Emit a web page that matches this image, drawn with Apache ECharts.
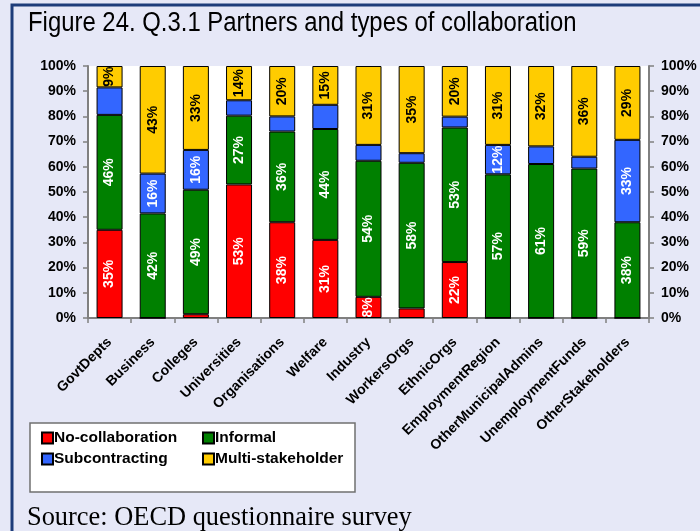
<!DOCTYPE html>
<html><head><meta charset="utf-8">
<script src="https://cdn.jsdelivr.net/npm/echarts@6/dist/echarts.min.js"></script>
<style>
html,body{margin:0;padding:0;}
body{width:700px;height:531px;background:#e6e8f7;overflow:hidden;position:relative;}
#c{position:absolute;left:0;top:0;width:700px;height:531px;}
</style></head>
<body><div id="c"></div>
<script>
const categories = ['GovtDepts','Business','Colleges','Universities','Organisations','Welfare','Industry','WorkersOrgs','EthnicOrgs','EmploymentRegion','OtherMunicipalAdmins','UnemploymentFunds','OtherStakeholders'];
const noCollaboration = [35, 0, 1.5, 53, 38, 31, 8.4, 3.8, 22.2, 0, 0, 0, 0];
const informal = [45.6, 41.5, 49.4, 27.3, 36, 44, 54, 57.8, 53.4, 57, 61.1, 59.3, 38];
const subcontracting = [10.9, 15.8, 15.8, 6.1, 6, 9.6, 6.3, 3.8, 4.3, 11.7, 7, 4.7, 32.7];
const multiStakeholder = [8.5, 42.7, 33.3, 13.6, 20, 15.4, 31.3, 34.6, 20.1, 31.3, 31.9, 36, 29.3];
const seriesNames = ['No-collaboration','Informal','Subcontracting','Multi-stakeholder'];
const titleText = 'Figure 24. Q.3.1 Partners and types of collaboration';
const sourceText = 'Source: OECD questionnaire survey';

const chart = echarts.init(document.getElementById('c'), null, {renderer:'canvas'});
const lblFont = 'Liberation Sans, Arial, sans-serif';
function mk(name, data, color, textColor, minShow){
  return {
    name, type:'bar', stack:'all', data, barWidth:26,
    itemStyle:{color, borderColor:'#000', borderWidth:1},
    label:{show:true, position:'inside', rotate:90, color:textColor, fontWeight:'bold', fontSize:14, fontFamily:lblFont,
      formatter:p=> p.value>=minShow ? Math.round(p.value)+'%' : ''},
    emphasis:{disabled:true}
  };
}
const yAx = (pos, margin)=>({
  type:'value', min:0, max:100, interval:10, position:pos,
  axisLine:{show:true, lineStyle:{color:'#808080', width:2}},
  axisTick:{show:true, length:5, lineStyle:{color:'#808080', width:1.5}},
  splitLine:{show:false},
  axisLabel:{formatter:'{value}%', color:'#000', fontWeight:'bold', fontSize:14, fontFamily:lblFont, margin}
});
chart.setOption({
  animation:false,
  backgroundColor:'transparent',
  grid:{left:88, right:51, top:66, bottom:213, show:true, backgroundColor:'#fff', borderWidth:0},
  xAxis:{type:'category', data:categories,
    axisLine:{lineStyle:{color:'#808080', width:2}},
    axisTick:{show:true, length:5, lineStyle:{color:'#808080', width:1.5}},
    axisLabel:{rotate:45, color:'#000', fontWeight:'bold', fontSize:14, fontFamily:lblFont, margin:22, interval:0}},
  yAxis:[yAx('left', 12), yAx('right', 12)],
  graphic:[
    {type:'rect', shape:{x:12, y:5, width:700, height:540}, style:{fill:'none', stroke:'#1d3c7a', lineWidth:3}, z:0, silent:true},
    {type:'rect', shape:{x:30, y:423, width:325, height:69}, style:{fill:'#fff', stroke:'#707070', lineWidth:1.5}, z:0},
    {type:'text', x:28, y:24, scaleX:0.885, style:{text:titleText, font:'normal 27px Liberation Sans, Arial, sans-serif', fill:'#000', textVerticalAlign:'middle'}},
    {type:'text', x:27, y:531, style:{text:sourceText, font:'normal 26.4px Liberation Serif, Times New Roman, serif', fill:'#000', textVerticalAlign:'bottom'}}
  ],
  legend:[
    {data:['No-collaboration','Subcontracting'], orient:'vertical', left:36, top:425, itemGap:5, itemWidth:11, itemHeight:11, icon:'rect',
     textStyle:{color:'#000', fontWeight:'bold', fontSize:15.5, fontFamily:lblFont, padding:[0,0,0,-4]}, z:5},
    {data:['Informal','Multi-stakeholder'], orient:'vertical', left:197, top:425, itemGap:5, itemWidth:11, itemHeight:11, icon:'rect',
     textStyle:{color:'#000', fontWeight:'bold', fontSize:15.5, fontFamily:lblFont, padding:[0,0,0,-4]}, z:5}
  ],
  series:[
    mk(seriesNames[0], noCollaboration, '#ff0000', '#fff', 5),
    mk(seriesNames[1], informal, '#008000', '#fff', 5),
    mk(seriesNames[2], subcontracting, '#3366ff', '#fff', 11.5),
    mk(seriesNames[3], multiStakeholder, '#ffcc00', '#000', 5)
  ]
});
</script></body></html>
